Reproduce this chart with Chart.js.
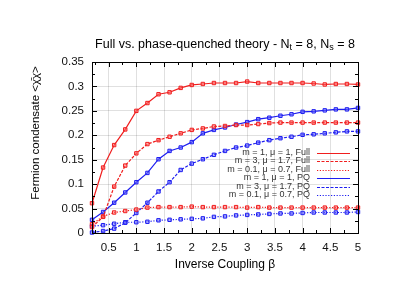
<!DOCTYPE html>
<html><head><meta charset="utf-8">
<script src="https://cdn.jsdelivr.net/npm/chart.js@4.4.1/dist/chart.umd.min.js"></script>
<style>html,body{margin:0;padding:0;background:#fff}#wrap{width:415px;height:294px}</style>
</head><body><div id="wrap"><canvas id="c" width="415" height="294"></canvas></div>
<script>
const beta = [0.2,0.4,0.6,0.8,1.0,1.2,1.4,1.6,1.8,2.0,2.2,2.4,2.6,2.8,3.0,3.2,3.4,3.6,3.8,4.0,4.2,4.4,4.6,4.8,5.0];
const fullM1  = [0.061,0.134,0.180,0.212,0.250,0.266,0.284,0.288,0.297,0.303,0.305,0.307,0.307,0.307,0.310,0.307,0.307,0.307,0.307,0.307,0.306,0.304,0.305,0.305,0.304];
const fullM3  = [0.012,0.033,0.095,0.138,0.163,0.182,0.190,0.197,0.204,0.211,0.214,0.218,0.219,0.221,0.221,0.223,0.225,0.226,0.226,0.226,0.226,0.226,0.226,0.226,0.226];
const fullM01 = [0.018,0.034,0.042,0.045,0.048,0.052,0.053,0.053,0.053,0.054,0.053,0.053,0.053,0.053,0.052,0.053,0.052,0.052,0.052,0.052,0.052,0.052,0.052,0.052,0.052];
const pqM1    = [0.027,0.043,0.062,0.083,0.104,0.123,0.151,0.168,0.175,0.186,0.204,0.211,0.216,0.222,0.227,0.233,0.236,0.240,0.243,0.248,0.249,0.251,0.253,0.253,0.256];
const pqM3    = [0.001,0.004,0.009,0.021,0.041,0.062,0.085,0.104,0.129,0.142,0.151,0.160,0.168,0.175,0.179,0.185,0.190,0.194,0.197,0.201,0.202,0.204,0.206,0.208,0.208];
const pqM01   = [0.014,0.016,0.019,0.022,0.022,0.023,0.026,0.027,0.028,0.029,0.030,0.033,0.034,0.036,0.037,0.038,0.039,0.040,0.040,0.041,0.042,0.042,0.042,0.042,0.043];
const seriesLabels = ["m = 1, \u03bc = 1, Full","m = 3, \u03bc = 1.7, Full","m = 0.1, \u03bc = 0.7, Full","m = 1, \u03bc = 1, PQ","m = 3, \u03bc = 1.7, PQ","m = 0.1, \u03bc = 0.7, PQ"];
const xTicks = [0.5,1,1.5,2,2.5,3,3.5,4,4.5,5];
const yTicks = [0,0.05,0.1,0.15,0.2,0.25,0.3,0.35];
const titleParts = ["Full vs. phase-quenched theory - N","t"," = 8, N","s"," = 8"];
const xTitle = "Inverse Coupling \u03b2";
const yTitle = "Fermion condensate <\u03c7\u0304\u03c7>";

const RED = 'rgb(240,30,30)', BLUE = 'rgb(30,30,240)';
const RED_F = 'rgba(255,110,110,0.55)', BLUE_F = 'rgba(110,110,255,0.55)';
const dashes = [[], [3,1.5], [1.2,1.6]];
const allData = [fullM1, fullM3, fullM01, pqM1, pqM3, pqM01];
const datasets = allData.map((arr, i) => {
  const red = i < 3;
  return {
    label: seriesLabels[i],
    data: beta.map((b, k) => ({x: b, y: arr[k]})),
    borderColor: red ? RED : BLUE,
    backgroundColor: red ? RED_F : BLUE_F,
    pointBorderColor: red ? RED : BLUE,
    pointBackgroundColor: red ? RED_F : BLUE_F,
    borderWidth: 1.2,
    borderDash: dashes[i % 3],
    pointStyle: 'rect',
    pointRadius: 2.4,
    pointBorderWidth: 1,
    tension: 0,
    clip: 6
  };
});

const FONT = '"Liberation Sans", Arial, sans-serif';
const deco = {
  id: 'deco',
  afterDraw(chart) {
    const ctx = chart.ctx, a = chart.chartArea;
    const xs = chart.scales.x, ys = chart.scales.y;
    ctx.save();
    ctx.strokeStyle = '#000'; ctx.lineWidth = 1;
    ctx.beginPath();
    for (let v = 0.25; v <= 5.0001; v += 0.25) {
      const px = Math.round(xs.getPixelForValue(v)) + 0.5;
      const major = Math.abs(v*2 - Math.round(v*2)) < 1e-6;
      const L = major ? 5 : 3;
      ctx.moveTo(px, a.bottom); ctx.lineTo(px, a.bottom - L);
      ctx.moveTo(px, a.top); ctx.lineTo(px, a.top + L);
    }
    for (let v = 0; v <= 0.35001; v += 0.025) {
      const py = Math.round(ys.getPixelForValue(v)) + 0.5;
      const major = Math.abs(v*20 - Math.round(v*20)) < 1e-6;
      const L = major ? 5 : 3;
      ctx.moveTo(a.left, py); ctx.lineTo(a.left + L, py);
      ctx.moveTo(a.right, py); ctx.lineTo(a.right - L, py);
    }
    ctx.stroke();
    ctx.strokeRect(Math.round(a.left)+0.5, Math.round(a.top)+0.5, Math.round(a.right-a.left), Math.round(a.bottom-a.top));
    // legend
    ctx.font = '9px ' + FONT;
    ctx.textAlign = 'right'; ctx.textBaseline = 'middle';
    chart.data.datasets.forEach((ds, i) => {
      const y = 152.5 + i * 8.5;
      ctx.fillStyle = '#333';
      ctx.fillText(ds.label, 310, y);
      ctx.strokeStyle = ds.borderColor; ctx.lineWidth = 1.2;
      ctx.setLineDash(ds.borderDash);
      ctx.beginPath(); ctx.moveTo(317, Math.round(y)+0.5); ctx.lineTo(350, Math.round(y)+0.5); ctx.stroke();
    });
    ctx.setLineDash([]);
    // title with subscripts
    ctx.fillStyle = '#000';
    ctx.textBaseline = 'alphabetic'; ctx.textAlign = 'left';
    const big = '12.5px ' + FONT, small = '9px ' + FONT;
    let w = 0;
    titleParts.forEach((p, i) => { ctx.font = (i % 2) ? small : big; w += ctx.measureText(p).width; });
    let x = 225 - w / 2;
    titleParts.forEach((p, i) => {
      ctx.font = (i % 2) ? small : big;
      ctx.fillText(p, x, (i % 2) ? 50 : 47.5);
      x += ctx.measureText(p).width;
    });
    // axis titles
    ctx.font = '12px ' + FONT; ctx.textAlign = 'center'; ctx.textBaseline = 'middle';
    ctx.fillText(xTitle, 225, 265);
    ctx.font = '11.5px ' + FONT;
    ctx.translate(36, 133); ctx.rotate(-Math.PI / 2);
    ctx.fillText(yTitle, 0, 0);
    ctx.restore();
  }
};

new Chart(document.getElementById('c'), {
  type: 'line',
  data: { datasets },
  options: {
    responsive: false, animation: false, devicePixelRatio: 1,
    layout: { padding: { top: 62, right: 57, left: 0, bottom: 0 } },
    plugins: { legend: { display: false }, title: { display: false }, tooltip: { enabled: false } },
    scales: {
      x: {
        type: 'linear', min: 0.2, max: 5,
        afterBuildTicks: s => { s.ticks = xTicks.map(v => ({ value: v })); },
        afterFit: s => { s.height = 61; },
        grid: { color: 'rgba(0,0,0,0.12)', lineWidth: 1, borderDash: [1, 2], drawTicks: false },
        border: { display: false },
        ticks: { padding: 8, color: '#111', font: { family: FONT, size: 11.5 }, maxRotation: 0, autoSkip: false,
                 callback: v => String(v) }
      },
      y: {
        type: 'linear', min: 0, max: 0.35,
        afterBuildTicks: s => { s.ticks = yTicks.map(v => ({ value: v })); },
        afterFit: s => { s.width = 92; },
        grid: { color: 'rgba(0,0,0,0.12)', lineWidth: 1, borderDash: [1, 2], drawTicks: false },
        border: { display: false },
        ticks: { padding: 8, color: '#111', font: { family: FONT, size: 11.5 }, autoSkip: false,
                 callback: v => String(v) }
      }
    }
  },
  plugins: [deco]
});
</script></body></html>
